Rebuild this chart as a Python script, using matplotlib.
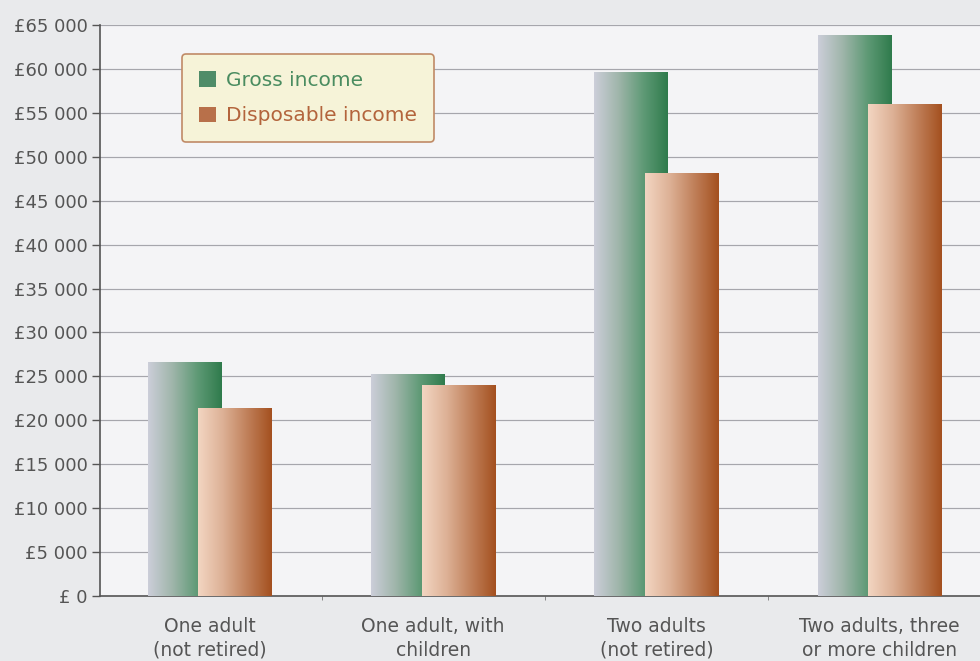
import numpy as np
import matplotlib
matplotlib.use("Agg")
import matplotlib.pyplot as plt
from matplotlib.colors import LinearSegmentedColormap
from matplotlib.patches import Patch

plt.rcParams['font.family'] = ['DejaVu Sans']

categories = ["One adult\n(not retired)", "One adult, with\nchildren",
              "Two adults\n(not retired)", "Two adults, three\nor more children"]
gross_income = [26600, 25300, 59700, 63900]
disposable_income = [21400, 24000, 48100, 56000]
series_names = ["Gross income", "Disposable income"]
y_ticks = list(range(0, 65001, 5000))
y_tick_labels = ["£ 0" if v == 0 else "£{} {:03d}".format(v // 1000, v % 1000) for v in y_ticks]

gross_cmap = LinearSegmentedColormap.from_list(
    "gross", ["#ccced9", "#9fb5aa", "#5f9a76", "#2f7b4c"])
disp_cmap = LinearSegmentedColormap.from_list(
    "disp", ["#f3d6c2", "#ddb196", "#c0805a", "#a4501f"])

fig = plt.figure(figsize=(9.8, 6.61), dpi=100)
fig.patch.set_facecolor("#e9eaec")
ax = fig.add_axes([100 / 980, 65 / 661, 1 - 100 / 980, (596 - 25) / 661])
ax.set_facecolor("#f4f4f6")

x = np.arange(len(categories))
width = 0.33
offset = 0.113

grad = np.linspace(0, 1, 256).reshape(1, -1)


def gradient_bars(xs, values, cmap, z):
    bars = ax.bar(xs, values, width=width, color="none", edgecolor="none", zorder=z)
    for b in bars:
        x0, y0 = b.get_x(), b.get_y()
        w, h = b.get_width(), b.get_height()
        im = ax.imshow(grad, cmap=cmap, aspect="auto",
                       extent=(x0, x0 + w, y0, y0 + h), zorder=z,
                       interpolation="bicubic")
        im.set_clip_path(b)
    return bars


gradient_bars(x - offset, gross_income, gross_cmap, 3)
gradient_bars(x + offset, disposable_income, disp_cmap, 4)

ax.set_xlim(-0.493, 3.45)
ax.set_ylim(0, 65000)
ax.set_yticks(y_ticks)
ax.set_yticklabels(y_tick_labels, fontsize=13, color="#555555")
ax.yaxis.grid(True, color="#a6a6ac", linewidth=0.85, zorder=1)
ax.set_axisbelow(True)

ax.set_xticks(x)
ax.set_xticklabels(categories, fontsize=13.5, color="#555555", linespacing=1.32)
ax.tick_params(axis="x", length=0, pad=15)
ax.set_xticks([0.5, 1.5, 2.5], minor=True)
ax.tick_params(axis="x", which="minor", length=3, color="#777777")
ax.tick_params(axis="y", length=6, color="#555555", width=1, pad=3)

for s in ["top", "right"]:
    ax.spines[s].set_visible(False)
ax.spines["left"].set_color("#555555")
ax.spines["bottom"].set_color("#555555")
ax.spines["left"].set_linewidth(1.2)
ax.spines["bottom"].set_linewidth(1.2)

handles = [Patch(facecolor="#4f8c68", edgecolor="none"),
           Patch(facecolor="#b8704a", edgecolor="none")]
leg = ax.legend(handles, series_names, loc="upper left",
                bbox_to_anchor=(82 / 880, 1 - 29 / 571),
                fontsize=14.5, frameon=True, fancybox=True,
                handlelength=0.85, handleheight=0.8, handletextpad=0.5,
                borderpad=0.85, labelspacing=0.8, borderaxespad=0)
frame = leg.get_frame()
frame.set_facecolor("#f6f3d8")
frame.set_edgecolor("#c08a66")
frame.set_linewidth(1.2)
frame.set_alpha(1)
leg.get_texts()[0].set_color("#4a8c60")
leg.get_texts()[1].set_color("#b3643c")
leg.set_zorder(10)

fig.savefig("out.png", dpi=100, facecolor=fig.get_facecolor())
